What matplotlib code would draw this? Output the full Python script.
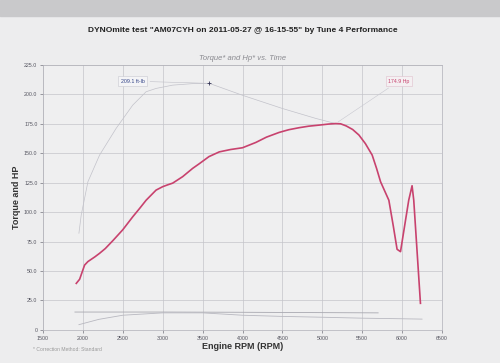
import matplotlib
matplotlib.use('Agg')
import matplotlib.pyplot as plt
from matplotlib.patches import Rectangle

# Datos
hp_rpm = [1917, 1959, 2021, 2063, 2150, 2209, 2280, 2379, 2500, 2625, 2710, 2792,
          2850, 2917, 3000, 3060, 3125, 3250, 3375, 3459, 3580, 3709, 3850, 4000,
          4167, 4300, 4459, 4580, 4709, 4830, 4959, 5080, 5167, 5230, 5300, 5380,
          5459, 5540, 5625, 5680, 5730, 5834, 5890, 5937, 5980, 6083, 6125, 6146,
          6230]
hp_val = [39.5, 43, 55, 58, 62, 65, 69, 76, 85, 96, 103, 110,
          114, 118.6, 121.5, 123, 124.5, 130, 137, 141, 147, 151, 153, 154.5,
          159, 163.5, 167.5, 169.8, 171.5, 172.8, 173.7, 174.6, 175, 174.8, 173, 170,
          165.3, 158, 148.3, 137, 125.7, 110, 88, 68.4, 66.4, 110, 122.3, 110,
          22.6]

tq_rpm = [1950, 1979, 2063, 2209, 2417, 2625, 2792, 2917, 3125, 3400, 3584,
          4000, 4500, 4917, 5167]
tq_val = [82, 97.5, 125.7, 148.3, 171, 190.7, 202, 204.8, 207.6, 209, 209.1,
          199, 187.8, 179.4, 175]

lineA_rpm = [1900, 3000, 4000, 5000, 5700]
lineA_val = [15.2, 15.2, 15.0, 14.7, 14.5]
lineB_rpm = [1950, 2200, 2500, 3000, 3500, 4000, 4500, 5000, 5500, 6000, 6250]
lineB_val = [4.5, 9, 12.5, 14.5, 14.5, 12.5, 11.5, 10.8, 10.0, 9.5, 9.2]

x_ticks = list(range(1500, 6501, 500))
y_ticks = [0, 25, 50, 75, 100, 125, 150, 175, 200, 225]

plt.rcParams['font.family'] = ['Liberation Sans', 'DejaVu Sans']

fig = plt.figure(figsize=(5, 3.63), dpi=100, facecolor='#ededee')
fig.patches.append(Rectangle((0, 0.955), 1, 0.045, transform=fig.transFigure,
                             color='#c9c9cb', zorder=0))
ax = fig.add_axes([0.086, 0.091, 0.798, 0.731])
ax.set_facecolor('#efeff0')

ax.plot(lineA_rpm, lineA_val, color='#a8a8b0', lw=0.6)
ax.plot(lineB_rpm, lineB_val, color='#b8b8c0', lw=0.6)
ax.plot(tq_rpm, tq_val, color='#c2c2ca', lw=0.5)
ax.plot(hp_rpm, hp_val, color='#c8426e', lw=1.2)

# Etiquetas de pico
ax.plot([3584], [209.1], marker='+', color='#333355', ms=3, mew=0.6)
ax.annotate('209.1 ft-lb', xy=(3584, 209.1), xytext=(2621, 211),
            fontsize=3.8, color='#334488', ha='center', va='center',
            bbox=dict(boxstyle='square,pad=0.5', fc='#f4f4f6', ec='#c8c8d0', lw=0.4),
            arrowprops=dict(arrowstyle='-', color='#c0c0c8', lw=0.4))
ax.annotate('174.9 Hp', xy=(5167, 175), xytext=(5959, 211),
            fontsize=3.8, color='#c8426e', ha='center', va='center',
            bbox=dict(boxstyle='square,pad=0.5', fc='#f4f0f2', ec='#e0c0cc', lw=0.4),
            arrowprops=dict(arrowstyle='-', color='#c8c8d0', lw=0.4))

ax.set_xlim(1500, 6500)
ax.set_ylim(0, 225)
ax.set_xticks(x_ticks)
ax.set_yticks(y_ticks)
ax.set_yticklabels(['0'] + [f'{v:.1f}' for v in y_ticks[1:]])
ax.tick_params(labelsize=3.8, colors='#555560', length=2, width=0.4, pad=2)
ax.grid(True, color='#c4c4ca', lw=0.5)
for s in ax.spines.values():
    s.set_color('#b0b0b8')
    s.set_linewidth(0.5)

ax.set_xlabel('Engine RPM (RPM)', fontsize=6.5, fontweight='bold', color='#333333', labelpad=1)
ax.set_ylabel('Torque and HP', fontsize=6.5, fontweight='bold', color='#333333', labelpad=2)
ax.set_title('Torque* and Hp* vs. Time', fontsize=5.5, style='italic', color='#8a8a90', pad=3)

fig.text(0.486, 0.917, 'DYNOmite test "AM07CYH on 2011-05-27 @ 16-15-55" by Tune 4 Performance',
         ha='center', va='center', fontsize=6.0, fontweight='bold', color='#222222')
fig.text(0.066, 0.036, '* Correction Method: Standard', fontsize=3.6, color='#999999',
         ha='left', va='center')

fig.savefig('out.png', dpi=100, facecolor=fig.get_facecolor())
